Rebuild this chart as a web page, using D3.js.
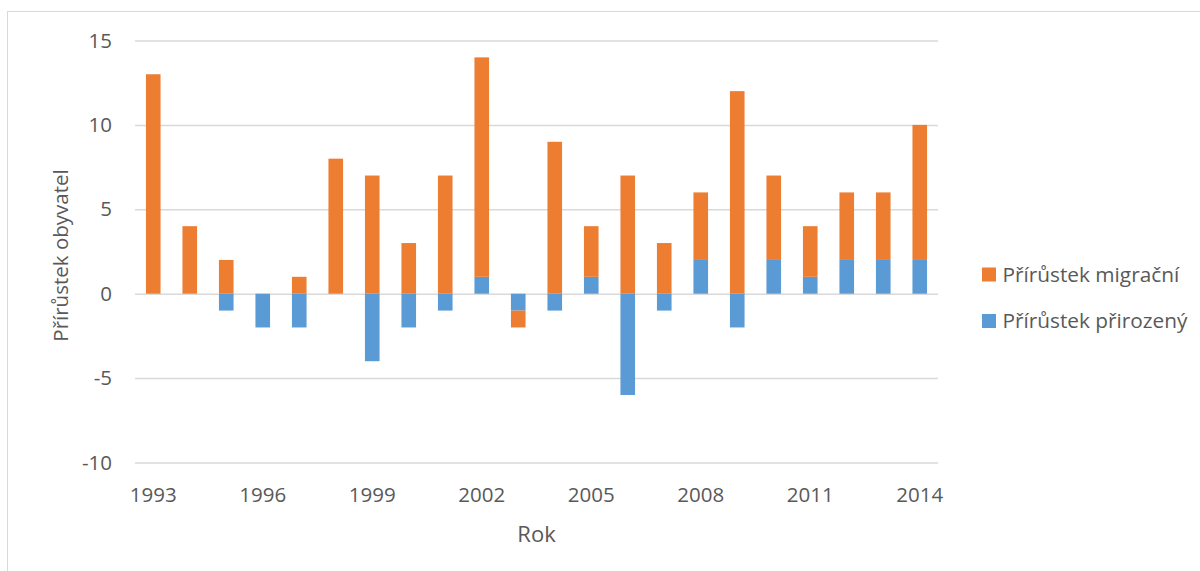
<!DOCTYPE html>
<html>
<head>
<meta charset="utf-8">
<script src="https://cdn.jsdelivr.net/npm/d3@7"></script>
<style>
	body { margin: 0; background: #fff; }
	svg { display: block; font-family: "Open Sans", sans-serif; }
</style>
</head>
<body>
<svg id="chart" width="1200" height="571"></svg>
<script>
// roky
const years = [1993, 1994, 1995, 1996, 1997, 1998, 1999, 2000, 2001, 2002, 2003,
	2004, 2005, 2006, 2007, 2008, 2009, 2010, 2011, 2012, 2013, 2014]
// přirozený přírůstek (modrá)
const prirozeny = [0, 0, -1, -2, -2, 0, -4, -2, -1, 1, -1, -1, 1, -6, -1, 2, -2, 2, 1, 2, 2, 2]
// migrační přírůstek (oranžová)
const migracni = [13, 4, 2, 0, 1, 8, 7, 3, 7, 13, -1, 9, 3, 7, 3, 4, 12, 5, 3, 4, 4, 8]
const yTicks = [-10, -5, 0, 5, 10, 15]

const series = [
	{ key: "prirozeny", name: "Přírůstek přirozený", color: "#5B9BD5" },
	{ key: "migracni", name: "Přírůstek migrační", color: "#ED7D31" }
]

let svg = d3.select("#chart"),
		plotLeft = 135, plotRight = 938, plotTop = 40.5, plotBottom = 462.5,
		textColor = "#595959",
		gridColor = "#D9D9D9",
		tickFont = 20.5,
		legendFont = 20.8,
		titleFont = 22

// ramecek
svg.append("rect")
	.attr("x", 7.5).attr("y", 11.5)
	.attr("width", 1200).attr("height", 600)
	.attr("fill", "none").attr("stroke", gridColor).attr("stroke-width", 1)

let rows = years.map((yr, i) => ({ year: yr, prirozeny: prirozeny[i], migracni: migracni[i] }))

let stacked = d3.stack()
	.keys(series.map(s => s.key))
	.offset(d3.stackOffsetDiverging)(rows)

let x = d3.scaleBand()
	.domain(years)
	.range([plotLeft, plotRight])
	.paddingInner(0.6)
	.paddingOuter(0.3)

let y = d3.scaleLinear()
	.domain([-10, 15])
	.range([plotBottom, plotTop])

// osa y + mrizka (obycejny spojovnik misto minus)
let yAxis = svg.append("g")
	.attr("transform", `translate(${plotLeft},0)`)
	.call(d3.axisLeft(y).tickValues(yTicks).tickFormat(d => String(d))
		.tickSize(-(plotRight - plotLeft)).tickPadding(23))
yAxis.select(".domain").remove()
yAxis.selectAll("line").attr("stroke", gridColor).attr("stroke-width", 1.5)
yAxis.selectAll("text")
	.attr("fill", textColor)
	.style("font-size", tickFont + "px")
	.style("font-family", "'Open Sans', sans-serif")

// sloupce
svg.append("g")
	.selectAll("g")
	.data(stacked)
	.join("g")
		.attr("fill", (d, i) => series[i].color)
	.selectAll("rect")
	.data(d => d)
	.join("rect")
		.attr("x", d => x(d.data.year))
		.attr("width", x.bandwidth())
		.attr("y", d => y(Math.max(d[0], d[1])))
		.attr("height", d => Math.abs(y(d[0]) - y(d[1])))

// osa x - popisky kazdy treti rok
let xAxis = svg.append("g")
	.attr("transform", `translate(0,${plotBottom})`)
	.call(d3.axisBottom(x).tickValues(years.filter(yr => (yr - years[0]) % 3 === 0)).tickSize(0))
xAxis.select(".domain").remove()
xAxis.selectAll("text")
	.attr("y", 39).attr("dy", 0)
	.attr("fill", textColor)
	.style("font-size", tickFont + "px")
	.style("font-family", "'Open Sans', sans-serif")

// nazvy os
svg.append("text")
	.attr("x", (plotLeft + plotRight) / 2).attr("y", 541.5)
	.attr("text-anchor", "middle")
	.attr("fill", textColor)
	.style("font-size", titleFont + "px")
	.text("Rok")

svg.append("text")
	.attr("transform", `translate(68,${(plotTop + plotBottom) / 2 + 4}) rotate(-90)`)
	.attr("text-anchor", "middle")
	.attr("fill", textColor)
	.style("font-size", tickFont + "px")
	.text("Přírůstek obyvatel")

// legenda - migrační nahore
let legend = svg.append("g")
	.selectAll("g")
	.data(series.slice().reverse())
	.join("g")
		.attr("transform", (d, i) => `translate(982,${281.5 + i * 46.5})`)
legend.append("rect")
	.attr("x", 0).attr("y", -14)
	.attr("width", 14).attr("height", 14)
	.attr("fill", d => d.color)
legend.append("text")
	.attr("x", 20.5).attr("y", 0)
	.attr("fill", textColor)
	.style("font-size", legendFont + "px")
	.text(d => d.name)
</script>
</body>
</html>
